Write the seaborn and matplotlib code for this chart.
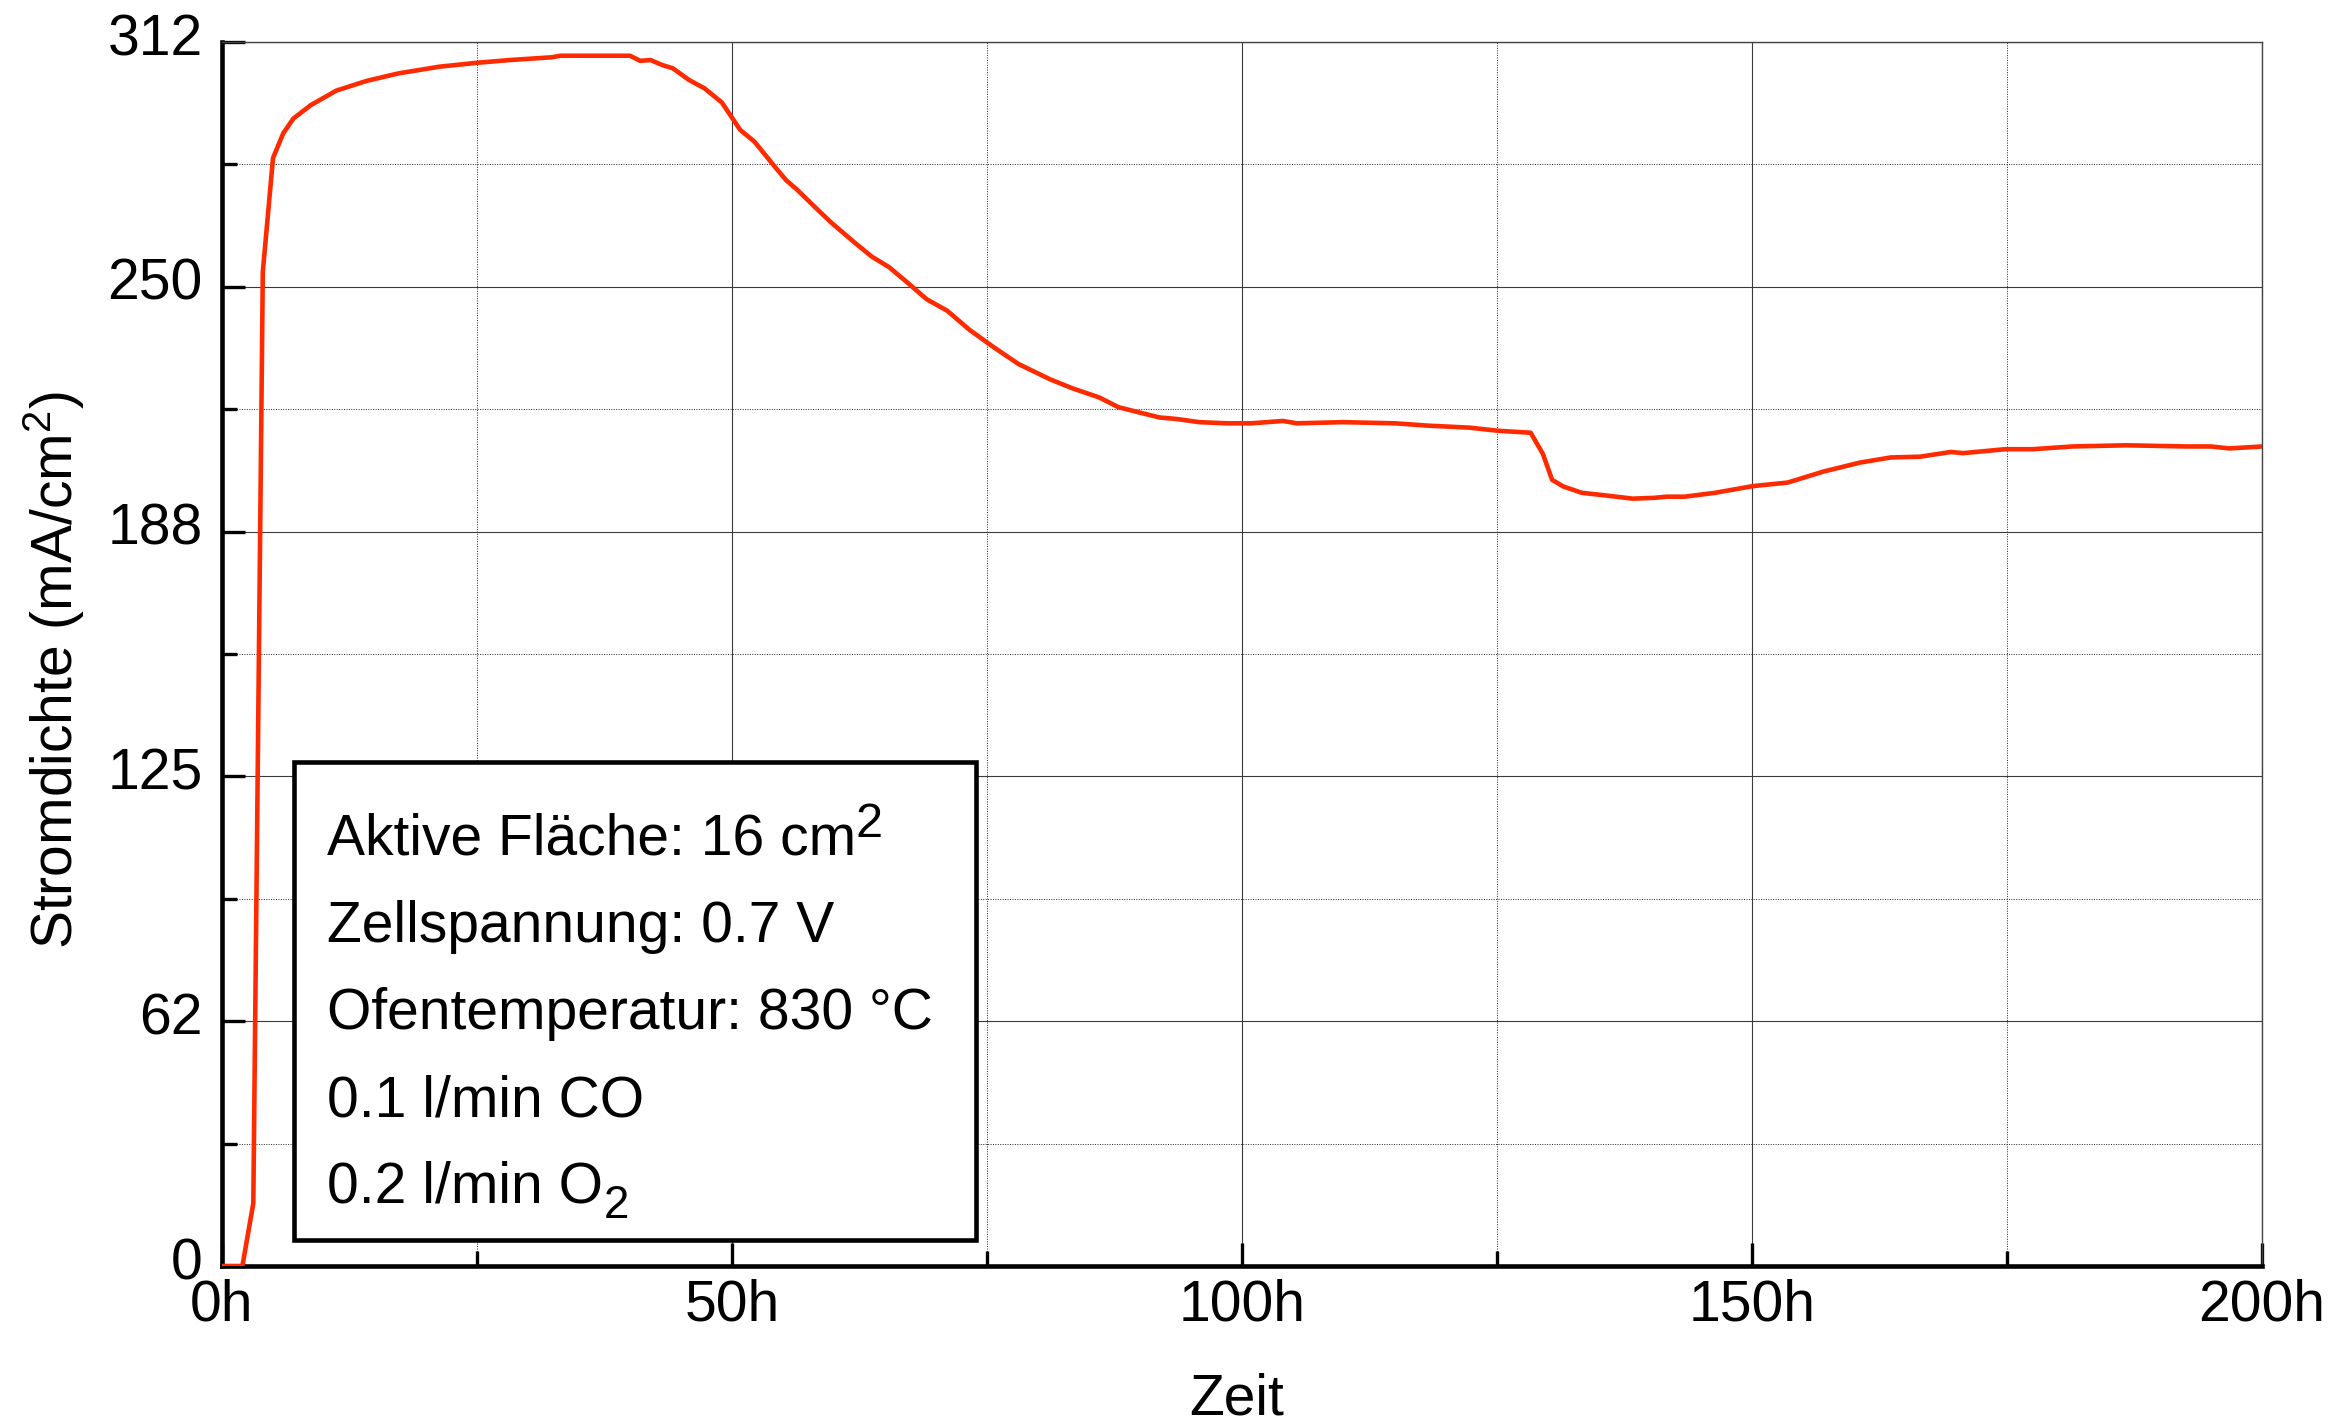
import matplotlib
matplotlib.use("Agg")
import matplotlib.pyplot as plt
from matplotlib.patches import Rectangle
from matplotlib.ticker import FixedLocator, MultipleLocator
from matplotlib.transforms import ScaledTranslation
import seaborn as sns
import pandas as pd

# ---- data ----
hours = [0, 2.0, 3.07, 4.0, 5.0, 6.0, 7.0, 8.7, 11.2, 14.2, 17.3, 21.3, 25.0,
         28.2, 32.3, 33.2, 40.0, 41.0, 42.0, 43.2, 44.2, 45.8, 47.3, 49.0,
         50.8, 52.2, 54.2, 55.3, 56.4, 58.1, 59.8, 62.1, 63.7, 65.4, 67.1,
         69.1, 71.1, 73.3, 75.6, 78.1, 81.2, 83.4, 86.0, 87.9, 90.2, 91.9,
         93.6, 95.8, 98.6, 100.9, 104.0, 105.4, 109.9, 115.0, 118.3, 122.3,
         125.1, 128.3, 129.5, 130.4, 131.5, 133.3, 135.7, 138.3, 140.4, 141.6,
         143.4, 146.4, 150.1, 153.5, 157.0, 160.6, 163.6, 166.5, 169.5, 170.7,
         174.8, 177.5, 181.4, 186.7, 192.6, 195.0, 196.8, 200.0]
current = [0, 0, 16.0, 253.4, 282.4, 288.7, 292.5, 295.9, 299.6, 302.1, 304.0,
           305.7, 306.7, 307.4, 308.1, 308.5, 308.5, 307.2, 307.4, 306.1,
           305.3, 302.3, 300.2, 296.6, 289.6, 286.6, 280.2, 276.8, 274.3,
           270.0, 265.8, 260.7, 257.3, 254.6, 250.9, 246.4, 243.5, 238.6,
           234.3, 229.9, 226.0, 223.7, 221.4, 218.9, 217.4, 216.3, 215.9,
           215.1, 214.8, 214.8, 215.4, 214.8, 215.1, 214.8, 214.2, 213.7,
           212.9, 212.4, 207.0, 200.4, 198.7, 197.1, 196.4, 195.6, 195.8,
           196.1, 196.1, 197.1, 198.8, 199.7, 202.5, 204.8, 206.1, 206.3,
           207.5, 207.2, 208.2, 208.2, 208.9, 209.2, 208.9, 208.9, 208.4, 208.9]

ytick_values = [0, 62.4, 124.8, 187.2, 249.6, 312]
ytick_labels = ["0", "62", "125", "188", "250", "312"]
xtick_values = [0, 50, 100, 150, 200]
xtick_labels = ["0h", "50h", "100h", "150h", "200h"]
info_main = ["Aktive Fläche: 16 cm", "Zellspannung: 0.7 V",
             "Ofentemperatur: 830 °C", "0.1 l/min CO", "0.2 l/min O"]
info_script = [("2", "sup"), None, None, None, ("2", "sub")]
xlabel = "Zeit"
ylabel = "Stromdichte (mA/cm$^2$)"

# ---- style ----
sns.set_theme(style="white")
plt.rcParams["font.family"] = ["Liberation Sans", "DejaVu Sans"]
plt.rcParams["mathtext.fontset"] = "custom"
plt.rcParams["mathtext.rm"] = "Liberation Sans"
plt.rcParams["mathtext.it"] = "Liberation Sans"
plt.rcParams["mathtext.default"] = "regular"

FS = 41
DPI = 100
fig = plt.figure(figsize=(23.49, 14.26), dpi=DPI)
AX_H = 1224
ax = fig.add_axes([222 / 2349, 160 / 1426, 2040 / 2349, AX_H / 1426])

df = pd.DataFrame({"Zeit": hours, "Strom": current})
sns.lineplot(data=df, x="Zeit", y="Strom", ax=ax, color="#ff2a00",
             linewidth=3.3, estimator=None, sort=False, zorder=3)

ax.set_xlim(0, 200)
ax.set_ylim(0, 312)

ax.xaxis.set_major_locator(FixedLocator(xtick_values))
ax.xaxis.set_minor_locator(MultipleLocator(25))
ax.set_xticklabels(xtick_labels)
ax.yaxis.set_major_locator(FixedLocator(ytick_values))
ax.yaxis.set_minor_locator(MultipleLocator(31.2))
ax.set_yticklabels(ytick_labels)

ax.grid(which="major", color="#3a3a3a", linewidth=0.8, linestyle="-", zorder=0)
ax.grid(which="minor", color="#222222", linewidth=0.7, linestyle=(0, (1, 1.5)), zorder=0)
ax.set_axisbelow(True)

for side in ["left", "bottom"]:
    ax.spines[side].set_linewidth(3.3)
    ax.spines[side].set_color("black")
for side in ["top", "right"]:
    ax.spines[side].set_linewidth(1.0)
    ax.spines[side].set_color("#444444")

ax.tick_params(axis="both", which="major", direction="in", length=16.5,
               width=2.4, color="black", labelsize=FS, labelcolor="black",
               bottom=True, left=True, top=False, right=False)
ax.tick_params(axis="both", which="minor", direction="in", length=11,
               width=2.4, color="black",
               bottom=True, left=True, top=False, right=False)
ax.tick_params(axis="y", which="major", pad=14)
ax.tick_params(axis="x", which="major", pad=9)

# y tick labels sit slightly above their ticks in the reference
shift = ScaledTranslation(0, 8 / DPI, fig.dpi_scale_trans)
for lab in ax.get_yticklabels():
    lab.set_transform(lab.get_transform() + shift)

ax.set_xlabel(xlabel, fontsize=FS, color="black")
ax.set_ylabel(ylabel, fontsize=FS, color="black")
ax.xaxis.set_label_coords(0.4975, -0.087)
ax.yaxis.set_label_coords(-0.066, 0.487)

# info box
box = Rectangle((0.0353, 0.0212), 0.3343, 0.3906, transform=ax.transAxes,
                facecolor="white", edgecolor="black", linewidth=3.3, zorder=5)
ax.add_patch(box)
baselines = [0.3358, 0.2647, 0.1936, 0.1225, 0.0515]
texts = []
for txt, yb in zip(info_main, baselines):
    t = ax.text(0.0515, yb, txt, transform=ax.transAxes, fontsize=FS,
                va="baseline", ha="left", color="black", zorder=6)
    texts.append(t)

renderer = fig.canvas.get_renderer()
ax_bb = ax.get_window_extent(renderer)
for t, yb, scr in zip(texts, baselines, info_script):
    if scr is None:
        continue
    s, kind = scr
    bb = t.get_window_extent(renderer)
    if kind == "sup":
        xr = (bb.x1 - 1 - ax_bb.x0) / ax_bb.width
        ys = yb + 18 / AX_H
        fs = 35
    else:
        xr = (bb.x1 + 1 - ax_bb.x0) / ax_bb.width
        ys = yb - 15 / AX_H
        fs = 33
    ax.text(xr, ys, s, transform=ax.transAxes, fontsize=fs, va="baseline",
            ha="left", color="black", zorder=6)

fig.savefig("out.png", dpi=DPI, facecolor="white")
